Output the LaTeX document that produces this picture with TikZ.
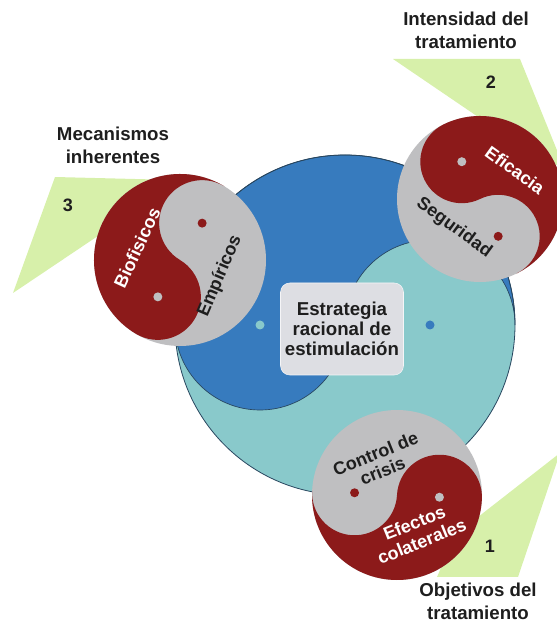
\documentclass[tikz,border=0pt]{standalone}
\usepackage{fontspec}
\setmainfont{Liberation Sans}
\usetikzlibrary{positioning}

\definecolor{yyred}{RGB}{140,26,26}
\definecolor{yygray}{RGB}{191,191,193}
\definecolor{yyblue}{RGB}{55,123,190}
\definecolor{yyteal}{RGB}{137,201,203}
\definecolor{yyedge}{RGB}{40,70,95}
\definecolor{ptgreen}{RGB}{215,240,170}
\definecolor{boxgray}{RGB}{221,222,227}
\definecolor{txtdark}{RGB}{30,30,30}

% yin-yang: [extra options of the head] centre, radius, head angle, head colour, tail colour
\newcommand{\yinyang}[6][]{%
  \fill[#6] (#2) circle[radius=#3];
  \path[fill=#5,#1] (#2) ++(#4:#3) arc[start angle=#4, end angle=#4-180, radius=#3]
    arc[start angle=#4+180, end angle=#4+360, radius=#3/2]
    arc[start angle=#4+180, end angle=#4, radius=#3/2] -- cycle;
  \fill[#6] (#2) ++(#4:#3/2) circle[radius=4.5];
  \fill[#5] (#2) ++(#4+180:#3/2) circle[radius=4.5];
}

\tikzset{
  heading/.style={font=\bfseries\fontsize{14}{17.5}\selectfont, text=txtdark, align=center},
  numlabel/.style={font=\bfseries\fontsize{13.5}{15}\selectfont, text=txtdark},
  pointer/.style={fill=ptgreen},
  whitelbl/.style={font=\bfseries\fontsize{13.5}{15}\selectfont, text=white, align=center, inner sep=0pt},
  darklbl/.style={font=\bfseries\fontsize{13.5}{14}\selectfont, text=txtdark, align=center, inner sep=0pt},
  centrebox/.style={fill=boxgray, draw=white!70!boxgray, rounded corners=7pt, minimum width=88pt,
    minimum height=69pt, align=center, font=\bfseries\fontsize{14}{15}\selectfont, text=txtdark}
}

\begin{document}
\begin{tikzpicture}[x=0.75pt, y=0.75pt]

    \useasboundingbox (0,0) rectangle (557,622);
    \clip (0,0) rectangle (557,622);

    % green pointers
    \fill[pointer] (55,445) -- (175,442) -- (150,421) -- (13,329) -- cycle;
    \fill[pointer] (393,563) -- (520,563) -- (565,452) -- (490,497) -- cycle;
    \fill[pointer] (437,45) -- (518,45) -- (560,169) -- (455,87) -- cycle;

    % central circle
    \yinyang[draw=yyedge, line width=0.5pt]{345,297}{170}{180}{yyblue}{yyteal}
    \draw[yyedge, line width=0.6pt] (345,297) circle[radius=170];

    % small circles
    \yinyang{180,362}{86}{239}{yyred}{yygray}
    \yinyang{480,423}{83}{116}{yyred}{yygray}
    \yinyang{397,127}{85}{-3}{yyred}{yygray}

    \node[centrebox] (estrategia) at (342,293) {Estrategia\\racional de\\estimulación};

    \node[whitelbl, rotate=65] (biofisicos) at (137,374) {Biofisicos};
    \node[darklbl, rotate=67] (empiricos) at (220,346) {Empíricos};
    \node[whitelbl, rotate=-36] (eficacia) at (515,452) {Eficacia};
    \node[darklbl, rotate=-36] (seguridad) at (454,394) {Seguridad};
    \node[darklbl, rotate=22] (control) at (379,160) {Control de\\crisis};
    \node[whitelbl, rotate=22] (efectos) at (418,90) {Efectos\\colaterales};

    \node[heading] (mecanismos) at (113,477) {Mecanismos\\inherentes};
    \node[heading] (intensidad) at (466,592) {Intensidad del\\tratamiento};
    \node[heading] (objetivos) at (478,21) {Objetivos del\\tratamiento};

    \node[numlabel] (n3) at (68,417) {3};
    \node[numlabel] (n2) at (491,540) {2};
    \node[numlabel] (n1) at (490,76) {1};

\end{tikzpicture}
\end{document}
